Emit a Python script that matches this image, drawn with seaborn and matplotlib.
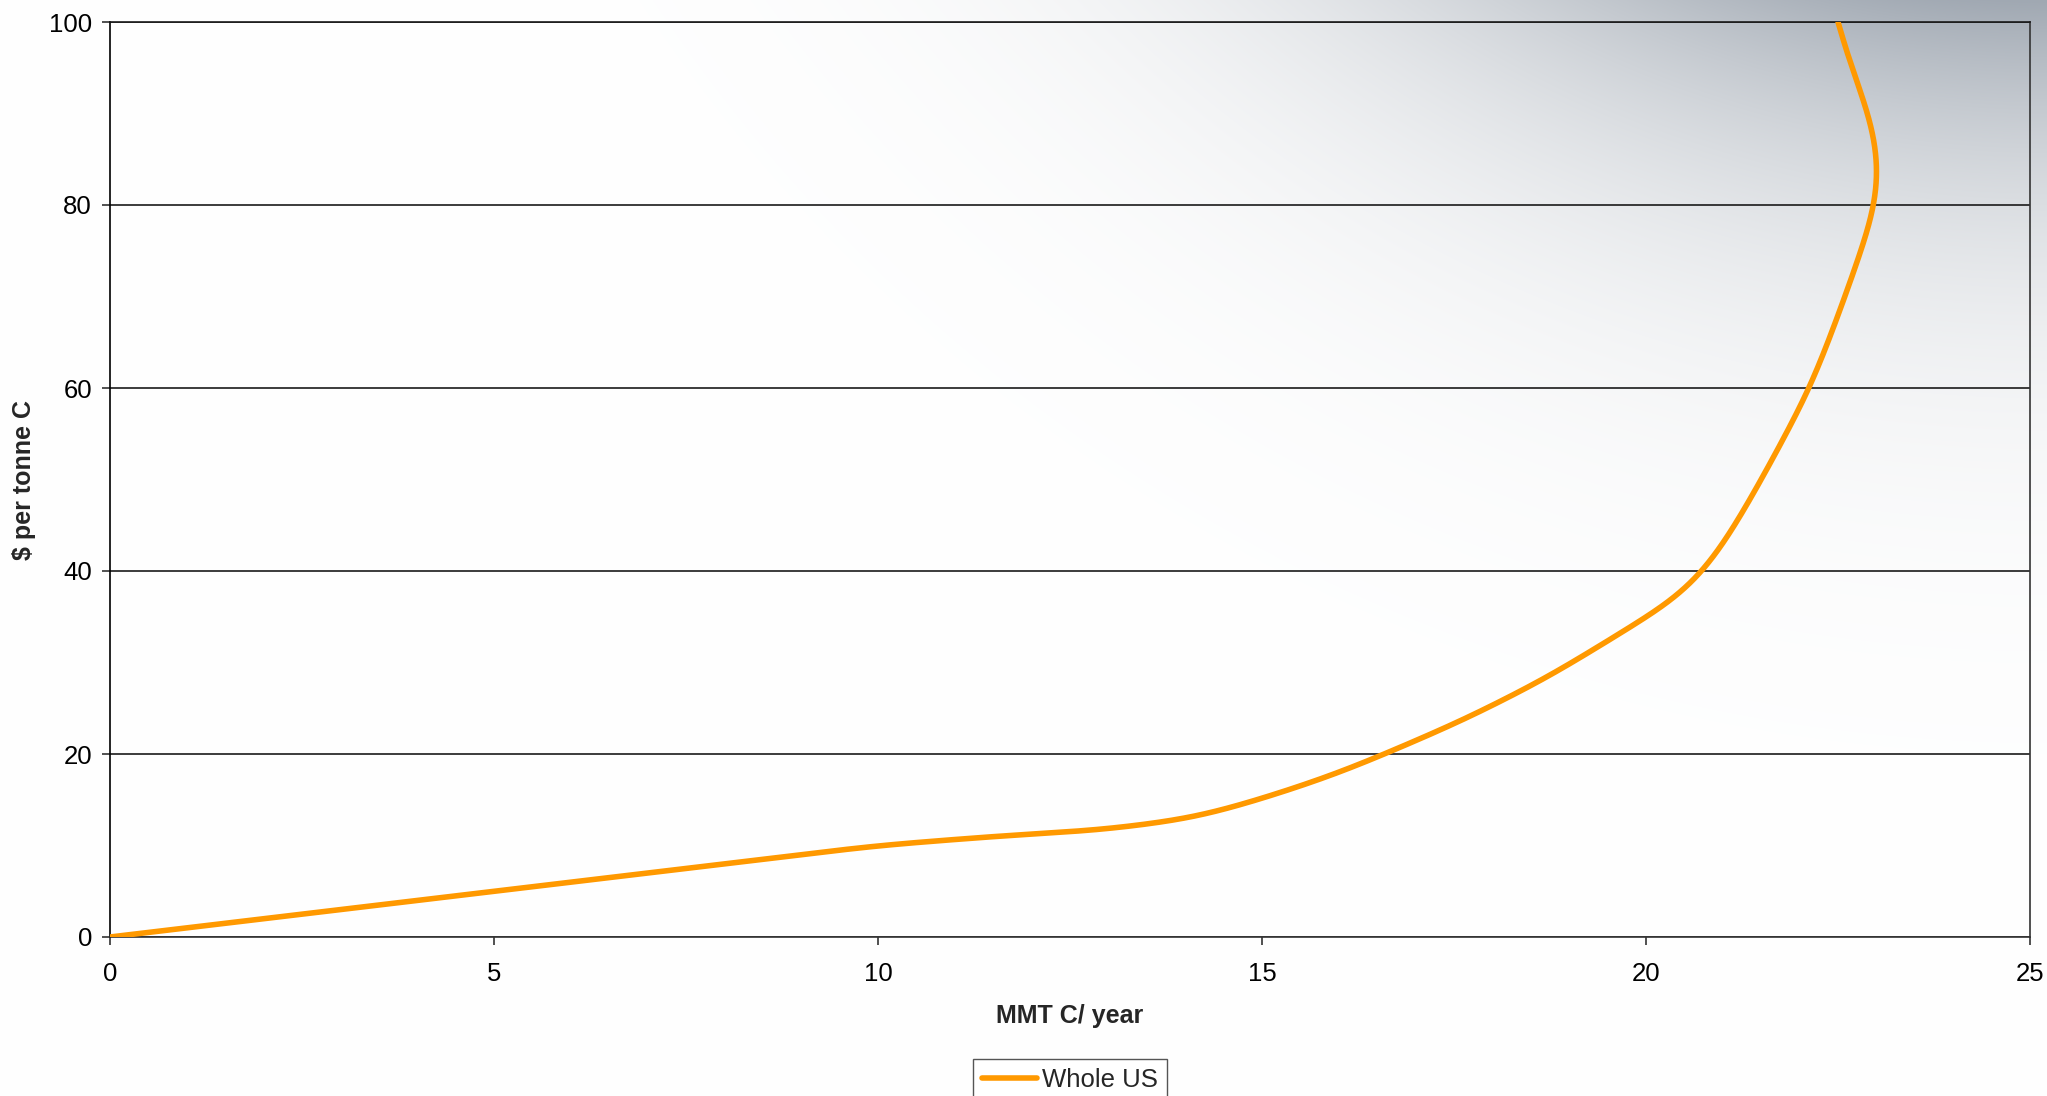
import numpy as np
import pandas as pd
import matplotlib
matplotlib.use("Agg")
import matplotlib.pyplot as plt
import seaborn as sns

# Supply curve: abatement (MMT C / year) against carbon price ($ per tonne C)
mmt_c = [0, 5, 10, 11.6, 12.9, 13.76, 14.19, 15.06, 15.93, 16.6, 17.62, 18.66,
         19.14, 20.44, 20.77, 21.13, 21.57, 21.92, 22.14, 22.48, 22.79, 23.0,
         23.05, 23.0, 22.81, 22.6, 22.5]
price = [0, 5, 10, 11.05, 11.7, 12.6, 13.15, 15.27, 17.7, 20, 23.7, 28.1,
         30.5, 37.2, 40, 44.5, 51, 56.5, 60, 67.4, 74.7, 80,
         83, 87.4, 92.2, 96.6, 100]
series_name = "Whole US"
x_ticks = [0, 5, 10, 15, 20, 25]
y_ticks = [0, 20, 40, 60, 80, 100]

W, H, DPI = 2047, 1096, 100
AX_L, AX_R, AX_B, AX_T = 110, 2030, 937, 22


def smooth_curve(xs, ys, sx, sy, sigma=32.0):
    """Smoothed line through the points: resample the path by arc length
    (in screen units) and round its corners with a Gaussian kernel."""
    P = np.column_stack([np.asarray(xs, float) * sx, np.asarray(ys, float) * sy])
    seg = np.hypot(*np.diff(P, axis=0).T)
    cum = np.concatenate([[0], np.cumsum(seg)])
    s = np.linspace(0, cum[-1], int(cum[-1]) + 1)
    k = int(3 * sigma)
    kern = np.exp(-0.5 * (np.arange(-k, k + 1) / sigma) ** 2)
    kern /= kern.sum()
    res = []
    for j in range(2):
        r = np.interp(s, cum, P[:, j])
        left = 2 * r[0] - r[k:0:-1]
        right = 2 * r[-1] - r[-2:-k - 2:-1]
        res.append(np.convolve(np.concatenate([left, r, right]), kern, mode="valid"))
    return res[0] / sx, res[1] / sy


sns.set_style("ticks")
plt.rcParams["font.family"] = ["Liberation Sans", "DejaVu Sans"]

fig = plt.figure(figsize=(W / DPI, H / DPI), dpi=DPI)
fig.patch.set_facecolor("white")

# Soft grey backdrop fading in from the upper-right corner
bg = fig.add_axes([0, 0, 1, 1], zorder=-5)
gx, gy = np.meshgrid(np.arange(W), np.arange(H))
a = (np.exp(-((W - gx) / 660.0) ** 2) * np.exp(-gy / 235.0)
     * np.exp(-(gy / 650.0) ** 2))
base = np.array([255, 255, 255], float)
tint = np.array([160, 168, 178], float)
img = (base[None, None, :] * (1 - a[..., None]) + tint[None, None, :] * a[..., None]) / 255.0
bg.imshow(img, extent=[0, W, H, 0], aspect="auto", interpolation="bilinear")
bg.set_xlim(0, W)
bg.set_ylim(H, 0)
bg.axis("off")

ax = fig.add_axes([AX_L / W, 1 - AX_B / H, (AX_R - AX_L) / W, (AX_B - AX_T) / H], zorder=1)
ax.patch.set_alpha(0)

sx = (AX_R - AX_L) / 25.0
sy = (AX_B - AX_T) / 100.0
cx, cy = smooth_curve(mmt_c, price, sx, sy)
df = pd.DataFrame({"MMT C/ year": cx, "$ per tonne C": cy, "series": series_name})

sns.lineplot(data=df, x="MMT C/ year", y="$ per tonne C", hue="series",
             palette=["#FF9900"], sort=False, estimator=None, linewidth=4.0,
             ax=ax, zorder=3)

ax.set_xlim(0, 25)
ax.set_ylim(0, 100)
ax.set_xticks(x_ticks)
ax.set_yticks(y_ticks)
ax.set_xticklabels([str(v) for v in x_ticks])
ax.set_yticklabels([str(v) for v in y_ticks])
ax.yaxis.grid(True, color="#1a1a1a", linewidth=1.2)
ax.xaxis.grid(False)
for side in ["left", "right", "top", "bottom"]:
    ax.spines[side].set_visible(True)
    ax.spines[side].set_linewidth(1.2)
ax.spines["left"].set_color("black")
ax.spines["top"].set_color("#1a1a1a")
ax.spines["right"].set_color("#333333")
ax.spines["bottom"].set_color("#333333")
ax.tick_params(axis="both", direction="out", length=6, width=1.2, color="#333333",
               labelsize=18.5, labelcolor="black")
ax.tick_params(axis="x", pad=12)
ax.tick_params(axis="y", pad=7)

ax.set_xlabel("MMT C/ year", fontsize=18, fontweight="bold", labelpad=13)
ax.set_ylabel("$ per tonne C", fontsize=18, fontweight="bold")
ax.yaxis.set_label_coords(-0.0384, 0.5)

handles, labels = ax.get_legend_handles_labels()
ax.legend_.remove()
leg = fig.legend(handles, labels, loc="upper center",
                 bbox_to_anchor=(1070 / W, 1 - 1059 / H),
                 fontsize=18.5, frameon=True, fancybox=False, framealpha=1,
                 edgecolor="#555555", handlelength=2.15, handletextpad=0.2,
                 borderpad=0.35, borderaxespad=0)
leg.get_frame().set_linewidth(1.0)
for ln in leg.get_lines():
    ln.set_linewidth(4.0)

fig.savefig("out.png", dpi=DPI, facecolor=fig.get_facecolor())
